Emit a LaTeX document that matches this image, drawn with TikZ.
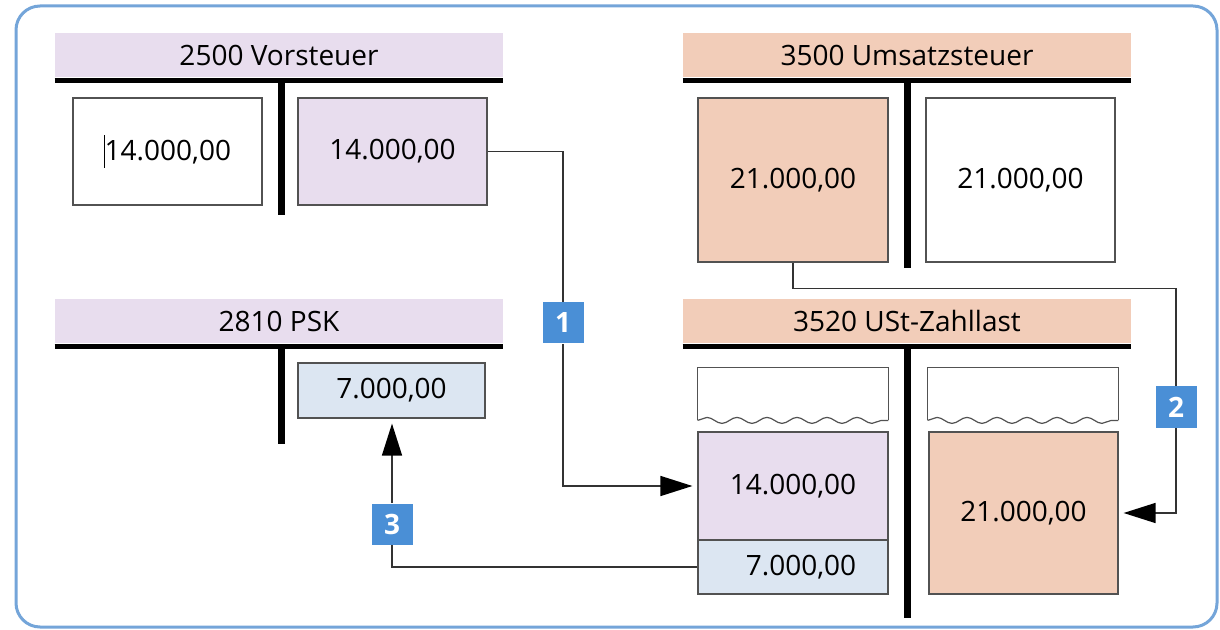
\documentclass[tikz,border=0pt]{standalone}
\usepackage{fontspec}
\setmainfont{Open Sans}
\usetikzlibrary{positioning}
\usetikzlibrary{arrows.meta}
\usetikzlibrary{decorations.pathmorphing}
\definecolor{lila}{HTML}{E8DDEE}
\definecolor{lachs}{HTML}{F2CDB9}
\definecolor{hellblau}{HTML}{DCE6F2}
\definecolor{marke}{HTML}{4A8FD6}
\definecolor{rahmen}{HTML}{74A5D9}
\definecolor{linie}{HTML}{333333}

\begin{document}
\begin{tikzpicture}[x=0.5pt,y=-0.5pt]
\tikzset{basic/.style={draw=linie!85,line width=0.6pt,inner sep=0pt,text badly centered,font=\fontsize{14}{16}\selectfont}}
\tikzset{head/.style={inner sep=0pt,minimum width=224pt,minimum height=22pt,font=\fontsize{14}{16}\selectfont}}
\tikzset{tline/.style={line width=2.5pt}}
\tikzset{marker/.style={fill=marke,text=white,inner sep=0pt,minimum size=20.5pt,font=\fontsize{14}{16}\selectfont\bfseries}}
\tikzset{conn/.style={draw=linie,line width=0.75pt}}
\tikzset{arr/.style={conn,-{Triangle[length=16pt,width=10pt,color=black]},shorten >=2.5pt}}
\tikzset{wavy/.style={draw=linie!85,line width=0.6pt,decorate,decoration={snake,amplitude=1.5pt,segment length=15pt}}}
    \useasboundingbox (0,0) rectangle (1220,630);
    \draw[rahmen,line width=1.5pt,rounded corners=12pt] (16,6) rectangle (1217,627);
    % 2500 Vorsteuer
        \node[head,fill=lila] (vst) at (279,55) {2500 Vorsteuer};
        \draw[tline] ([yshift=-1.5pt]vst.south west) -- ([yshift=-1.5pt]vst.south east);
        \draw[line width=3.5pt] ([xshift=1pt,yshift=-1.5pt]vst.south) -- ++(0,135);
        \node[basic,fill=white,minimum width=94.5pt,minimum height=53.5pt] (vst-s) at (167.5,151.5) {\rule[-0.25em]{0.4pt}{1.15em}14.000,00};
        \node[basic,fill=lila,minimum width=94.5pt,minimum height=53.5pt] (vst-h) at (392.5,151.5) {14.000,00};
    % 3500 Umsatzsteuer
        \node[head,fill=lachs] (ust) at (907,55) {3500 Umsatzsteuer};
        \draw[tline] ([yshift=-1.5pt]ust.south west) -- ([yshift=-1.5pt]ust.south east);
        \draw[line width=3.5pt] ([yshift=-1.5pt]ust.south) -- ++(0,188);
        \node[basic,fill=lachs,minimum width=95pt,minimum height=82pt] (ust-s) at (793,180) {21.000,00};
        \node[basic,fill=white,minimum width=94.5pt,minimum height=82pt] (ust-h) at (1020.5,180) {21.000,00};
    % 2810 PSK
        \node[head,fill=lila] (psk) at (279,321) {2810 PSK};
        \draw[tline] ([yshift=-1.5pt]psk.south west) -- ([yshift=-1.5pt]psk.south east);
        \draw[line width=3.5pt] ([xshift=1pt,yshift=-1.5pt]psk.south) -- ++(0,98);
        \node[basic,fill=hellblau,minimum width=93.5pt,minimum height=27.5pt] (psk-s) at (391.5,390.5) {7.000,00};
    % 3520 USt-Zahllast
        \node[head,fill=lachs] (zl) at (907,321) {3520 USt-Zahllast};
        \draw[tline] ([yshift=-1.5pt]zl.south west) -- ([yshift=-1.5pt]zl.south east);
        \draw[line width=3.5pt] ([yshift=-1.5pt]zl.south) -- ++(0,272);
        \node[minimum width=95pt,minimum height=26pt] (zl-w1) at (793,394) {};
        \node[minimum width=95pt,minimum height=26pt] (zl-w2) at (1023,394) {};
        \foreach \w in {zl-w1,zl-w2} {
            \draw[draw=linie!85,line width=0.6pt] (\w.south west) -- (\w.north west) -- (\w.north east) -- (\w.south east);
            \draw[wavy] (\w.south west) -- (\w.south east);
        }
        \node[basic,fill=lila,minimum width=95pt,minimum height=54pt] (zl-s1) at (793,486) {14.000,00};
        \node[basic,fill=hellblau,minimum width=95pt,minimum height=27pt] (zl-s2) at (793,567) {\hspace{8pt}7.000,00};
        \node[basic,fill=lachs,minimum width=94.5pt,minimum height=81pt] (zl-h) at (1023.5,513) {21.000,00};
    % Buchungen
        \node[marker] (m1) at (563,323) {1};
        \node[marker] (m2) at (1176,407) {2};
        \node[marker] (m3) at (392,524) {3};
            \path[conn] (vst-h.east) -| (m1);
            \path[arr] (m1) |- (zl-s1.west);
            \path[conn] (ust-s.south) -- ++(0,26) -| (m2);
            \path[arr] (m2) |- (zl-h.east);
            \path[conn] (zl-s2.west) -| (m3);
            \path[arr] (m3) -- (m3 |- psk-s.south);
\end{tikzpicture}
\end{document}
